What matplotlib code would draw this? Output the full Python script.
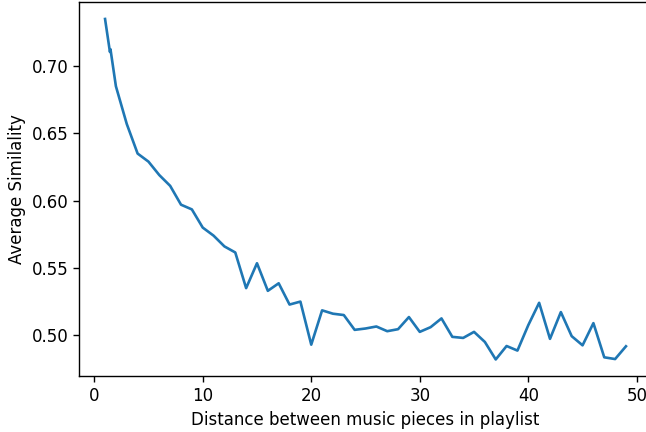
import matplotlib
matplotlib.use('Agg')
import matplotlib.pyplot as plt

# Average similarity by distance in playlist
distance = [1, 1.45, 1.5, 2, 3, 4, 5, 6, 7, 8, 9, 10, 11, 12, 13, 14, 15, 16, 17,
            18, 19, 20, 21, 22, 23, 24, 25, 26, 27, 28, 29, 30, 31, 32, 33, 34,
            35, 36, 37, 38, 39, 40, 41, 42, 43, 44, 45, 46, 47, 48, 49]
similarity = [0.735, 0.7105, 0.7125, 0.685, 0.657, 0.635, 0.629, 0.619, 0.611,
              0.597, 0.5935, 0.580, 0.574, 0.566, 0.5615, 0.535, 0.5535, 0.533,
              0.5386, 0.5228, 0.525, 0.493, 0.5185, 0.516, 0.515, 0.504, 0.505,
              0.5065, 0.503, 0.5045, 0.5135, 0.5025, 0.506, 0.5125, 0.4988,
              0.498, 0.5025, 0.495, 0.482, 0.492, 0.4886, 0.5075, 0.5241,
              0.4973, 0.5172, 0.4993, 0.4925, 0.509, 0.4836, 0.4823, 0.4918]

fig = plt.figure(figsize=(6.46, 4.32), dpi=100)
ax = fig.add_axes([0.1223, 0.1285, 0.887, 0.867])
ax.plot(distance, similarity, color='#1f77b4', linewidth=1.9)

ax.set_xticks([0, 10, 20, 30, 40, 50])
ax.set_yticks([0.50, 0.55, 0.60, 0.65, 0.70])
ax.tick_params(labelsize=12, length=4.2, width=1.0)
ax.set_xlabel('Distance between music pieces in playlist', fontsize=12)
ax.set_ylabel('Average Similality', fontsize=12)
for s in ax.spines.values():
    s.set_linewidth(1.0)

fig.savefig('out.png', dpi=100)
